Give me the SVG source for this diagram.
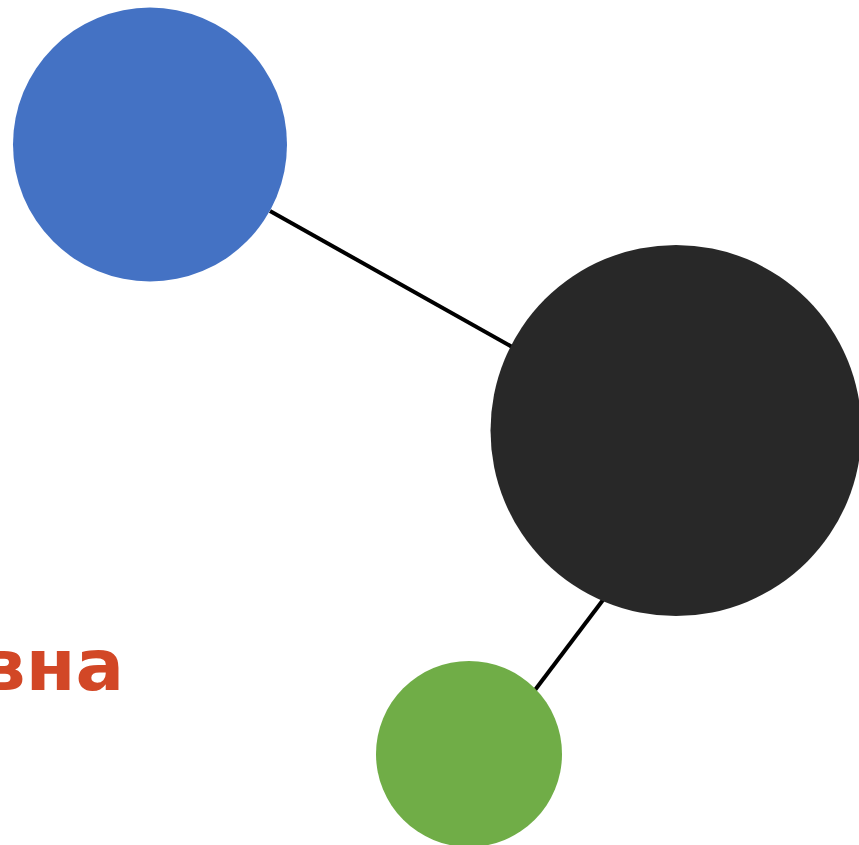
<svg xmlns="http://www.w3.org/2000/svg" width="859" height="845" viewBox="0 0 859 845">
<style>
.edge{stroke:#000;stroke-width:4;fill:none}
.lbl{font-family:"DejaVu Sans",Verdana,sans-serif;font-weight:bold;font-size:72px;fill:#D24726}
</style>
<rect width="859" height="845" fill="#fff"/>
<g id="connectors">
<line class="edge" x1="270" y1="211" x2="514" y2="348"/>
<line class="edge" x1="535" y1="690" x2="603" y2="600"/>
</g>
<g id="node-blue"><circle cx="150" cy="144.5" r="137" fill="#4472C4"/></g>
<g id="node-black"><circle cx="676" cy="430.5" r="185.5" fill="#282828"/></g>
<g id="node-green"><circle cx="469" cy="754" r="93" fill="#70AD47"/></g>
<g id="label"><text class="lbl" x="124" y="690" text-anchor="end">вна</text></g>
</svg>
